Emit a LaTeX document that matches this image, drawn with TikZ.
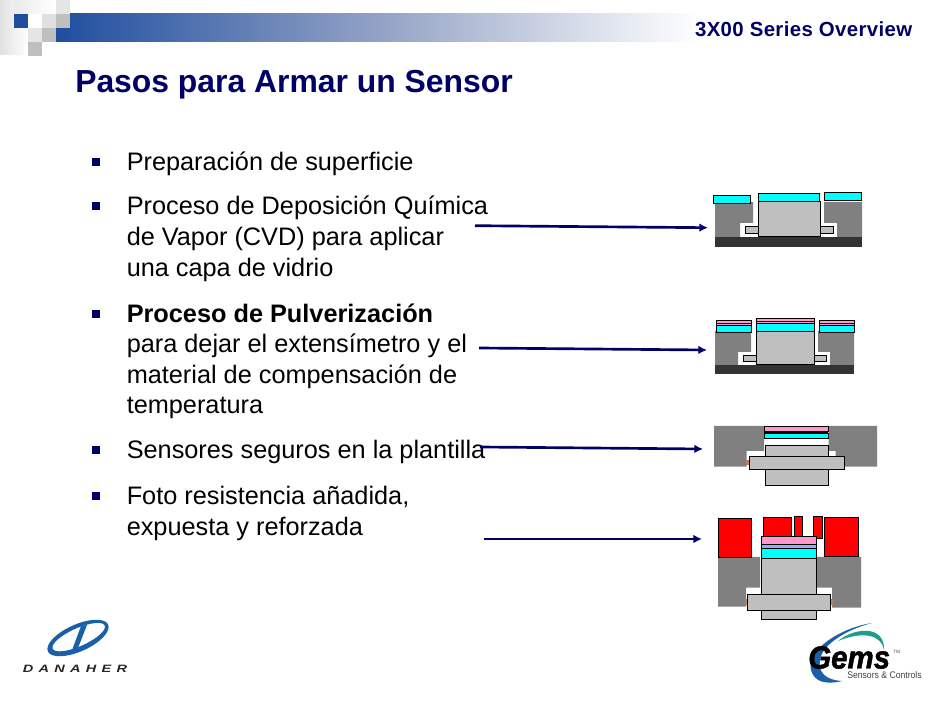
\documentclass[tikz,border=0pt]{standalone}
\usepackage{fontspec}
\setmainfont{Liberation Sans}
\usetikzlibrary{arrows.meta}
\definecolor{navy}{HTML}{000066}
\definecolor{bandblue}{HTML}{1F4E9F}
\definecolor{bandmid}{HTML}{9AA8C8}
\definecolor{logoblue}{HTML}{1B5FA8}
\definecolor{logogreen}{HTML}{1E9C8C}
\definecolor{partgrey}{HTML}{808080}
\definecolor{partsilver}{HTML}{BFBFBF}
\definecolor{partdark}{HTML}{333333}
\definecolor{partpink}{HTML}{FF99CC}
\definecolor{partviolet}{HTML}{A6A6F0}
\definecolor{partcopper}{HTML}{C08050}
\definecolor{partcyan}{RGB}{0,255,255}
\definecolor{partred}{RGB}{255,0,0}
\tikzset{
  body/.style={anchor=base west,inner sep=0pt,font=\fontsize{18.97pt}{23pt}\selectfont,text=black},
  bulletmark/.style={fill=navy,minimum size=5.6pt,inner sep=0pt},
  housing/.style={fill=partgrey,draw=none},
  base/.style={fill=partdark,draw=none},
  silver/.style={fill=partsilver,draw=black,line width=0.7pt},
  glass/.style={fill=partcyan,draw=black,line width=0.7pt},
  pinklayer/.style={fill=partpink,draw=black,line width=0.7pt},
  violetlayer/.style={fill=partviolet,draw=black,line width=0.7pt},
  blacklayer/.style={fill=black,draw=none},
  resist/.style={fill=partred,draw=black,line width=0.7pt},
  copper/.style={fill=partcopper,draw=none},
  pointer/.style={draw=navy,line width=2pt,-{Latex[length=6.5pt,width=6.5pt]}},
}
\begin{document}
\begin{tikzpicture}[x=0.75pt,y=-0.75pt]
\useasboundingbox (0,0) rectangle (940,705);
% header
\shade[left color=bandblue,right color=bandmid] (56,14) rectangle (400.5,41.7);
\shade[left color=bandmid,right color=white] (400,14) rectangle (700,41.7);
\shade[left color=black!12,right color=white] (0,0) rectangle (28,55);
\shade[left color=black!8,right color=white] (14,0) rectangle (56,14);
\fill[white] (28,14) rectangle (42,28);
\fill[bandblue] (14,14) rectangle (28,28);
\fill[black!12] (42,14) rectangle (56,28);
\fill[black!10] (56,0) rectangle (70,14);
\fill[black!25] (56,14) rectangle (70,28);
\fill[black!10] (28,28) rectangle (42,42);
\fill[black!25] (42,28) rectangle (56,42);
\fill[black!25] (28,42) rectangle (42,56);
\node[anchor=base east,inner sep=0pt,text=navy,font=\fontsize{15.3pt}{20pt}\selectfont\bfseries\addfontfeature{LetterSpace=1.8}] (series) at (912.5,37) {3X00 Series Overview};
\node[anchor=base west,inner sep=0pt,text=navy,font=\fontsize{23.9pt}{28pt}\selectfont\bfseries] (title) at (75,93) {Pasos para Armar un Sensor};
% bullets
\foreach \n/\y in {a/162,b/206,c/314,d/450,e/496}
  \node[bulletmark] (bullet\n) at (96,\y) {};
\node[body] (t1) at (126.5,171) {Preparación de superficie};
\node[body] (t2a) at (126.5,215) {Proceso de Deposición Química};
\node[body] (t2b) at (126.5,246) {de Vapor (CVD) para aplicar};
\node[body] (t2c) at (126.5,277) {una capa de vidrio};
\node[body] (t3a) at (126.5,323) {\bfseries Proceso de Pulverización};
\node[body] (t3b) at (126.5,353) {para dejar el extensímetro y el};
\node[body] (t3c) at (126.5,384) {material de compensación de};
\node[body] (t3d) at (126.5,414) {temperatura};
\node[body] (t4) at (126.5,459) {Sensores seguros en la plantilla};
\node[body] (t5a) at (126.5,505) {Foto resistencia añadida,};
\node[body] (t5b) at (126.5,536) {expuesta y reforzada};
% sensor 1
\fill[housing] (715,202) -- (753,202) -- (753,223) -- (740,223) -- (740,237) -- (715,237) -- cycle;
\fill[housing] (824,202) -- (862,202) -- (862,237) -- (837,237) -- (837,223) -- (824,223) -- cycle;
\fill[base] (715,237) rectangle (862,246.7);
\draw[silver] (745,226.3) rectangle (758.3,233.7);
\draw[silver] (820.7,226.3) rectangle (833.7,233.7);
\draw[silver] (758.3,201) rectangle (820.7,236.5);
\draw[glass] (758.3,193) rectangle (819.7,201);
\draw[glass] (713.5,195.3) rectangle (750.7,203.3);
\draw[glass] (824.3,192.3) rectangle (861.7,200.3);
% sensor 2
\fill[housing] (715,331) -- (751,331) -- (751,352) -- (738,352) -- (738,365) -- (715,365) -- cycle;
\fill[housing] (818,331) -- (854,331) -- (854,365) -- (830,365) -- (830,352) -- (818,352) -- cycle;
\fill[base] (715,365) rectangle (854,374);
\draw[silver] (743.3,355.3) rectangle (756.3,361.7);
\draw[silver] (814.7,355.3) rectangle (826.7,361.7);
\draw[silver] (756.3,331.7) rectangle (814.7,364.3);
\draw[glass] (756.3,323.3) rectangle (814.7,331.7);
\draw[pinklayer] (756.3,318.3) rectangle (814.7,321.3);
\draw[pinklayer] (756.3,321.3) rectangle (814.7,323.3);
\draw[glass] (716.3,325.3) rectangle (751.7,332.3);
\draw[pinklayer] (716.3,320.3) rectangle (751.7,323.7);
\draw[pinklayer] (716.3,323.7) rectangle (751.7,325.3);
\draw[glass] (819.3,325.3) rectangle (854.7,332.3);
\draw[pinklayer] (819.3,320.3) rectangle (854.7,323.7);
\draw[pinklayer] (819.3,323.7) rectangle (854.7,325.3);
% sensor 3
\fill[housing] (714,426) -- (764,426) -- (764,451) -- (746.7,451) -- (746.7,466.7) -- (714,466.7) -- cycle;
\fill[housing] (828.7,426) -- (877,426) -- (877,466.7) -- (835.7,466.7) -- (835.7,451) -- (828.7,451) -- cycle;
\fill[copper] (746,460.3) rectangle (749.3,464.7);
\draw[silver] (765.3,445.7) rectangle (828.3,456.3);
\draw[silver] (765.3,469.3) rectangle (828.3,485.3);
\draw[silver] (749.3,456.3) rectangle (844.7,469.3);
\draw[pinklayer] (764.3,426.7) rectangle (828.3,431);
\fill[blacklayer] (764.3,431) rectangle (828.3,433.3);
\draw[glass] (764.3,433.3) rectangle (828.3,438.3);
% sensor 4
\fill[housing] (718,557) -- (760,557) -- (760,587.7) -- (746,587.7) -- (746,606.7) -- (718,606.7) -- cycle;
\fill[housing] (816.7,557) -- (861,557) -- (861,607.7) -- (832,607.7) -- (832,587.7) -- (816.7,587.7) -- cycle;
\fill[copper] (745,599.3) rectangle (747.3,605);
\fill[copper] (830.7,599.3) rectangle (832.5,605);
\draw[resist] (718.3,518.3) rectangle (751.7,557);
\draw[resist] (763.3,517.3) rectangle (791.7,536.3);
\draw[resist] (794.3,516.3) rectangle (802.3,536.3);
\draw[resist] (813.3,516.3) rectangle (822.7,538.3);
\draw[resist] (824.3,517.3) rectangle (858.7,556.7);
\draw[silver] (761.3,558.3) rectangle (816.7,594.3);
\draw[silver] (761.3,610.3) rectangle (816.7,619.3);
\draw[silver] (747.3,594.3) rectangle (830.7,610.3);
\draw[glass] (761.3,548.3) rectangle (816.7,558.3);
\draw[violetlayer] (761.3,544.7) rectangle (816.7,548.3);
\draw[pinklayer] (761.3,536.3) rectangle (816.7,544.7);
% connectors
\coordinate (from1) at (475,225.7); \coordinate (to1) at (708,227.7);
\coordinate (from2) at (479,348); \coordinate (to2) at (707,350);
\coordinate (from3) at (480,447); \coordinate (to3) at (703,449);
\coordinate (from4) at (484,539); \coordinate (to4) at (702,539);
\foreach \i in {1,2,3,4} \draw[pointer] (from\i) -- (to\i);
% Danaher logo
\begin{scope}[rotate around={24:(78,638)}]
\fill[logoblue,even odd rule] (78,638) ellipse [x radius=33,y radius=13.5] (79,637.5) ellipse [x radius=28.5,y radius=9];
\end{scope}
\fill[logoblue] (81,626) -- (87,625) -- (78,648) -- (71,653) -- cycle;
\node[inner sep=0pt,text=black!85,font=\fontsize{8pt}{10pt}\selectfont\bfseries\itshape] (danaher) at (75,669) {\scalebox{1.36}[1]{D\hspace{2.9pt}A\hspace{2.9pt}N\hspace{2.9pt}A\hspace{2.9pt}H\hspace{2.9pt}E\hspace{2.9pt}R}};
% Gems logo
\fill[logoblue] (872,623) .. controls (840,628) and (806,650) .. (811,670) .. controls (814,682) and (826,685) .. (842,681) .. controls (825,680) and (818,672) .. (820,660) .. controls (822,645) and (845,630) .. (872,623) -- cycle;
\fill[logogreen] (838,641) .. controls (855,627) and (885,625) .. (884,650) .. controls (882,636) and (865,630) .. (838,641) -- cycle;
\node[anchor=base west,inner sep=0pt,text=black,font=\fontsize{24pt}{30pt}\selectfont\bfseries\itshape\addfontfeature{FakeBold=1.5}] (gems) at (808,668.5) {\scalebox{0.92}[1]{Gems}};
\node[anchor=base west,inner sep=0pt,text=black!75,font=\fontsize{7.2pt}{9pt}\selectfont] (tagline) at (847,678.5) {\scalebox{0.9}[1]{Sensors \& Controls}};
\node[anchor=base west,inner sep=0pt,text=black!70,font=\fontsize{3.5pt}{4pt}\selectfont] (tm) at (893,654) {TM};
\end{tikzpicture}
\end{document}
